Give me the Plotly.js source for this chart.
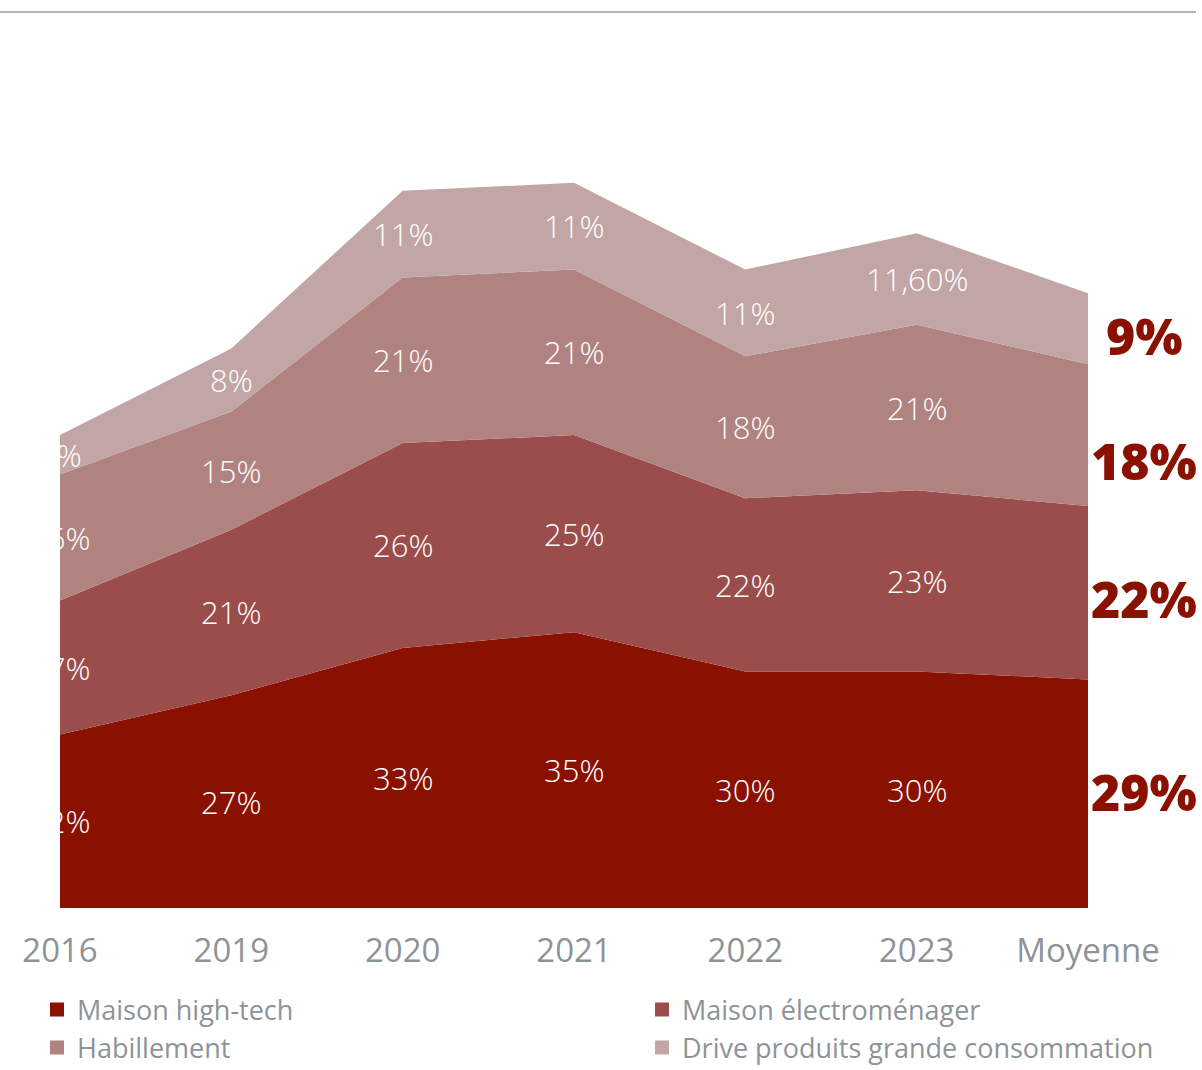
<!DOCTYPE html>
<html>
<head>
<meta charset="utf-8">
<script src="https://cdn.plot.ly/plotly-3.0.1.min.js"></script>
<style>
  html, body { margin: 0; padding: 0; background: #ffffff; }
  #chart { width: 1202px; height: 1070px; }
</style>
</head>
<body>
<div id="chart"></div>
<script>
const categories = ['2016', '2019', '2020', '2021', '2022', '2023', 'Moyenne'];
const seriesNames = ['Maison high-tech', 'Maison électroménager', 'Habillement', 'Drive produits grande consommation'];
const hightech = [22, 27, 33, 35, 30, 30, 29];
const electromenager = [17, 21, 26, 25, 22, 23, 22];
const habillement = [16, 15, 21, 21, 18, 21, 18];
const drive = [5, 8, 11, 11, 11, 11.6, 9];

const series = [hightech, electromenager, habillement, drive];
const colors = ['#8A1000', '#9A4D4B', '#B08381', '#C2A5A5'];
const labelShifts = [2, -6, -26, -7];
const FONT = '"Open Sans", sans-serif';

function fmt(v) {
  return Number.isInteger(v) ? v + '%' : v.toFixed(2).replace('.', ',') + '%';
}

const traces = [];
const base = categories.map(() => 0);
const centers = [];
series.forEach((vals, i) => {
  traces.push({
    type: 'scatter', x: categories, y: vals, stackgroup: 'one', mode: 'none',
    fillcolor: colors[i], line: { width: 0 }, hoverinfo: 'skip', showlegend: false,
    name: seriesNames[i]
  });
  centers.push(vals.map((v, j) => base[j] + v / 2));
  vals.forEach((v, j) => { base[j] += v; });
});

// inner labels (all columns except "Moyenne"), as annotations on the category index
const n = categories.length - 1;
const innerAnnotations = [];
series.forEach((vals, i) => {
  for (let j = 0; j < n; j++) {
    innerAnnotations.push({
      x: j, y: centers[i][j], xref: 'x', yref: 'y', text: fmt(vals[j]), showarrow: false,
      xanchor: 'center', yanchor: 'middle', yshift: 0,
      font: { family: FONT, size: 31, color: '#ffffff', weight: 300 }
    });
  }
});

const legendIds = ['legend', 'legend2', 'legend3', 'legend4'];
series.forEach((vals, i) => {
  traces.push({
    type: 'scatter', mode: 'markers', x: [null], y: [null], name: seriesNames[i],
    marker: { symbol: 'square', size: 14, color: colors[i] },
    legend: legendIds[i], hoverinfo: 'skip'
  });
});

const annotations = series.map((vals, i) => {
  const last = vals.length - 1;
  return {
    x: last, y: centers[i][last], xref: 'x', yref: 'y',
    text: fmt(vals[last]), showarrow: false,
    xanchor: 'center', yanchor: 'middle', xshift: 56, yshift: labelShifts[i],
    font: { family: FONT, size: 50, color: '#8A1000', weight: 800 }
  };
});

const legendFont = { family: FONT, size: 27, color: '#8E9398' };
const plotW = 1028, plotH = 867;
function legendAt(px, py) {
  return {
    orientation: 'h', x: (px - 60) / plotW, xanchor: 'left',
    y: (908 - py) / plotH, yanchor: 'middle', font: legendFont,
    bgcolor: 'rgba(0,0,0,0)', borderwidth: 0,
    itemclick: false, itemdoubleclick: false
  };
}

const layout = {
  width: 1202, height: 1070,
  margin: { l: 60, r: 114, t: 41, b: 162, pad: 0, autoexpand: false },
  paper_bgcolor: '#ffffff', plot_bgcolor: '#ffffff',
  showlegend: true,
  xaxis: {
    type: 'category', range: [0, 6], showgrid: false, zeroline: false, showline: false,
    ticks: '', tickfont: { family: FONT, size: 33, color: '#8E9398' },
    ticklabelstandoff: 20, fixedrange: true, automargin: false
  },
  yaxis: {
    range: [0, 110], showgrid: false, zeroline: false, showline: false,
    showticklabels: false, ticks: '', fixedrange: true, automargin: false
  },
  legend: legendAt(37, 1010),
  legend2: legendAt(642, 1010),
  legend3: legendAt(37, 1048),
  legend4: legendAt(642, 1048),
  shapes: [{
    type: 'line', xref: 'paper', yref: 'paper',
    x0: -60 / plotW, x1: 1136 / plotW, y0: 896 / plotH, y1: 896 / plotH,
    line: { color: '#B5B5B5', width: 2 }
  }],
  annotations: innerAnnotations.concat(annotations)
};

Plotly.newPlot('chart', traces, layout, { staticPlot: true, displayModeBar: false });
</script>
</body>
</html>
